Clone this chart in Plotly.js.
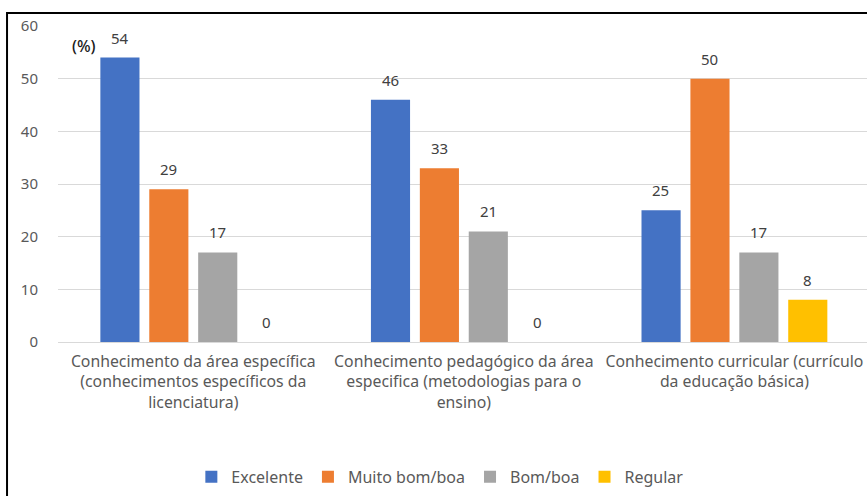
<!DOCTYPE html>
<html><head><meta charset="utf-8">
<script src="https://cdn.plot.ly/plotly-3.0.1.min.js"></script>
<style>html,body{margin:0;padding:0;background:#fff}#chart{width:867px;height:496px}</style>
</head><body><div id="chart"></div>
<script>
const categories = [
  "Conhecimento da área específica<br>(conhecimentos específicos da<br>licenciatura)",
  "Conhecimento pedagógico da área<br>especifica (metodologias para o<br>ensino)",
  "Conhecimento curricular (currículo<br>da educação básica)"
];
const seriesNames = ["Excelente", "Muito bom/boa", "Bom/boa", "Regular"];
const excelente = [54, 46, 25];
const muitoBom = [29, 33, 50];
const bom = [17, 21, 17];
const regular = [0, 0, 8];
const yTicks = [0, 10, 20, 30, 40, 50, 60];

const values = [excelente, muitoBom, bom, regular];
const colors = ["#4472C4", "#ED7D31", "#A5A5A5", "#FFC000"];
const FONT = "Noto Sans, sans-serif";

const traces = values.map((v, i) => ({
  type: "bar", name: seriesNames[i], x: [0, 1, 2], y: v,
  marker: {color: colors[i]}, hoverinfo: "skip"
}));

const slot = 49;
const annotations = [];
values.forEach((v, i) => {
  v.forEach((val, j) => {
    annotations.push({
      x: j, y: val, xref: "x", yref: "y", text: String(val), showarrow: false,
      xshift: (i - 1.5) * slot, xanchor: "center", yanchor: "bottom", yshift: 8,
      font: {family: FONT, size: 15, color: "#404040"}
    });
  });
});
annotations.push({
  xref: "paper", yref: "paper", x: 0.032, y: 0.937, xanchor: "center", yanchor: "middle",
  text: "(%)", showarrow: false,
  font: {family: FONT, size: 16, color: "#1a1a1a", weight: 500}
});

const layout = {
  width: 867, height: 496,
  margin: {l: 58, r: 0, t: 26, b: 154},
  paper_bgcolor: "#fff", plot_bgcolor: "#fff",
  barmode: "group", bargap: 0.277, bargroupgap: 0.2,
  font: {family: FONT, size: 15, color: "#595959"},
  xaxis: {
    tickmode: "array", tickvals: [0, 1, 2], ticktext: categories,
    range: [-0.5, 2.49], showgrid: false, zeroline: false, showline: false,
    ticks: "", tickangle: 0, ticklabelstandoff: 8, ticklabeloverflow: "allow",
    tickfont: {family: FONT, size: 15.8, color: "#595959"}, fixedrange: true
  },
  yaxis: {
    range: [0, 60], tickmode: "array", tickvals: yTicks, showgrid: true,
    gridcolor: "#D9D9D9", gridwidth: 1, zeroline: true, zerolinecolor: "#D9D9D9",
    showline: false, ticks: "outside", ticklen: 16, tickcolor: "rgba(0,0,0,0)",
    tickfont: {family: FONT, size: 15, color: "#595959"}, fixedrange: true
  },
  legend: {
    orientation: "h", x: 0.472, xanchor: "center", y: -0.427, yanchor: "middle",
    font: {family: FONT, size: 16, color: "#595959"}, itemwidth: 30, traceorder: "normal"
  },
  annotations: annotations,
  shapes: [{
    type: "rect", xref: "paper", yref: "paper",
    x0: -0.063, x1: 1.05, y0: -0.6, y1: 1.041,
    line: {color: "#000", width: 2}, fillcolor: "rgba(0,0,0,0)", layer: "above"
  }]
};

Plotly.newPlot("chart", traces, layout, {displayModeBar: false, staticPlot: true});
</script></body></html>
